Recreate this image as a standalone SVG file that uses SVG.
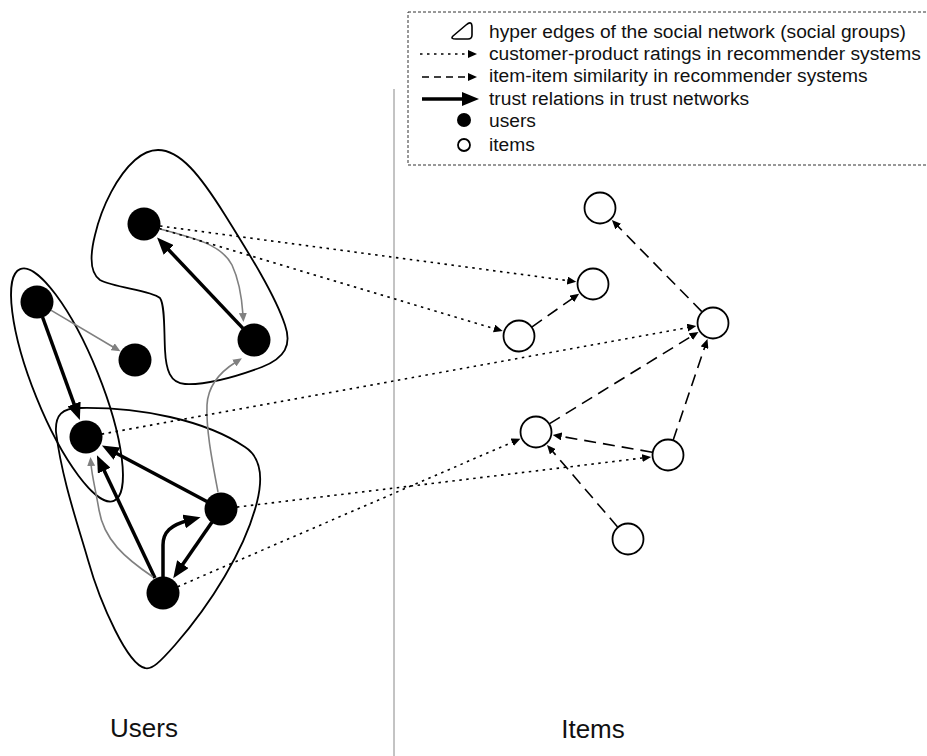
<svg xmlns="http://www.w3.org/2000/svg" width="927" height="756" viewBox="0 0 927 756">
  <style>
    .txt { font-family: "Liberation Sans", Arial, sans-serif; fill: #111; }
    .legend { font-size: 19.2px; }
    .label { font-size: 26px; }
    .group { fill: none; stroke: #000; stroke-width: 1.8; }
    .user { fill: #000; }
    .item { fill: #fff; stroke: #000; stroke-width: 1.8; }
    .trust { fill: none; stroke: #000; stroke-width: 3.5; marker-end: url(#headThick); }
    .gray { fill: none; stroke: #808080; stroke-width: 1.6; marker-end: url(#headGray); }
    .rating { fill: none; stroke: #000; stroke-width: 1.6; stroke-dasharray: 2.5 4.5; marker-end: url(#headSmall); }
    .sim { fill: none; stroke: #000; stroke-width: 1.6; stroke-dasharray: 12 7; marker-end: url(#headSmall); }
  </style>
  <defs>
    <marker id="headThick" markerUnits="userSpaceOnUse" markerWidth="18" markerHeight="14" viewBox="0 0 18 14" refX="4" refY="7" orient="auto">
      <path d="M0,0 L17,7 L0,14 z" fill="#000"/>
    </marker>
    <marker id="headSmall" markerUnits="userSpaceOnUse" markerWidth="10" markerHeight="8" viewBox="0 0 10 8" refX="2" refY="4" orient="auto">
      <path d="M0,0 L9,4 L0,8 z" fill="#000"/>
    </marker>
    <marker id="headGray" markerUnits="userSpaceOnUse" markerWidth="10" markerHeight="8" viewBox="0 0 10 8" refX="2" refY="4" orient="auto">
      <path d="M0,0 L9,4 L0,8 z" fill="#808080"/>
    </marker>
  </defs>

  <!-- divider between the user side and the item side -->
  <line x1="394" y1="89" x2="394" y2="756" stroke="#888" stroke-width="1"/>

  <!-- legend -->
  <g id="legend">
    <rect x="408" y="12" width="530" height="153" fill="none" stroke="#333" stroke-width="1" stroke-dasharray="3 2"/>
    <path d="M453,36 L466,25 Q472,20 472,27 L472,35 Q472,39 468,39 L456,39 Q450,39 453,36 Z" fill="none" stroke="#000" stroke-width="1.6"/>
    <line x1="420" y1="54" x2="470" y2="54" stroke="#000" stroke-width="1.6" stroke-dasharray="2.5 4.5" marker-end="url(#headSmall)"/>
    <line x1="422" y1="77" x2="470" y2="77" stroke="#000" stroke-width="1.6" stroke-dasharray="7 5" marker-end="url(#headSmall)"/>
    <line x1="422" y1="99" x2="466" y2="99" stroke="#000" stroke-width="3.5" marker-end="url(#headThick)"/>
    <circle cx="464" cy="120" r="7" fill="#000"/>
    <circle cx="464" cy="145" r="6" fill="#fff" stroke="#000" stroke-width="1.8"/>
    <text class="txt legend" x="489" y="38">hyper edges of the social network (social groups)</text>
    <text class="txt legend" x="489" y="60">customer-product ratings in recommender systems</text>
    <text class="txt legend" x="489" y="82">item-item similarity in recommender systems</text>
    <text class="txt legend" x="489" y="105">trust relations in trust networks</text>
    <text class="txt legend" x="489" y="127">users</text>
    <text class="txt legend" x="489" y="151">items</text>
  </g>

  <!-- social groups (hyper edges) -->
  <g id="groups">
    <path id="group-top" class="group" d="M158,150 C180,150 200,175 225,215 C250,255 275,295 285,325 C292,345 285,358 262,367 C235,377 205,385 185,384 C170,383 166,370 165,350 C164,330 165,305 160,298 C150,290 115,288 100,280 C90,273 90,255 95,235 C102,205 118,175 135,160 C143,153 150,150 158,150 Z"/>
    <ellipse id="group-left" class="group" cx="67" cy="385" rx="125" ry="33" transform="rotate(68 67 385)"/>
    <path id="group-bottom" class="group" d="M56,432 C55,415 62,408 80,408 C140,407 205,420 245,447 C262,458 263,478 257,502 C245,550 210,605 175,645 C160,662 152,670 145,668 C135,666 125,650 115,630 C105,610 95,585 88,560 C78,525 62,480 56,432 Z"/>
  </g>

  <!-- connectors -->
  <g id="connectors">
    <!-- trust relations -->
    <path class="trust" d="M243,328.4 L166,247"/>
    <path class="trust" d="M42.5,317 L75.4,407.7"/>
    <path class="trust" d="M206.9,501.5 L113.4,451.7"/>
    <path class="trust" d="M155,578 L102.5,467"/>
    <path class="trust" d="M211.9,522.2 L180.6,567.5"/>
    <path class="trust" d="M163,577 L163,545 C163,532 171,525 188,520.5"/>
    <!-- grey relations -->
    <path class="gray" d="M160,229 C195,238 222,245 232,265 C240,282 242,300 243,315"/>
    <path class="gray" d="M50.8,310.1 L114.4,347.7"/>
    <path class="gray" d="M218,492 C212,460 206,430 207,405 C208,385 220,372 236,362"/>
    <path class="gray" d="M153,577 C125,558 104,540 99,510 C95,487 92,476 91,464"/>
    <!-- customer-product ratings -->
    <path class="rating" d="M160,226 L569.3,280.8"/>
    <path class="rating" d="M159.3,228.6 L496,329.1"/>
    <path class="rating" d="M101.7,434.1 L689.4,327.3"/>
    <path class="rating" d="M236.9,507.1 L644.2,457.8"/>
    <path class="rating" d="M177.7,586.7 L514,441.5"/>
    <!-- item-item similarity -->
    <path class="sim" d="M532.1,326.8 L573.4,297.8"/>
    <path class="sim" d="M701.8,311.6 L616.8,225.1"/>
    <path class="sim" d="M549.6,423.6 L692.5,335.6"/>
    <path class="sim" d="M673.2,439.9 L705.2,345.7"/>
    <path class="sim" d="M652.2,452.2 L559.6,436.1"/>
    <path class="sim" d="M617.6,526.9 L551.6,450.2"/>
  </g>

  <!-- users -->
  <g id="u1"><circle class="user" cx="144" cy="224" r="16.5"/></g>
  <g id="u2"><circle class="user" cx="254" cy="340" r="16.5"/></g>
  <g id="u3"><circle class="user" cx="37" cy="302" r="16.5"/></g>
  <g id="u4"><circle class="user" cx="135" cy="360" r="16.5"/></g>
  <g id="u5"><circle class="user" cx="86" cy="437" r="16.5"/></g>
  <g id="u6"><circle class="user" cx="221" cy="509" r="16.5"/></g>
  <g id="u7"><circle class="user" cx="163" cy="593" r="16.5"/></g>

  <!-- items -->
  <g id="i1"><circle class="item" cx="600" cy="208" r="15.5"/></g>
  <g id="i2"><circle class="item" cx="593" cy="284" r="15.5"/></g>
  <g id="i3"><circle class="item" cx="519" cy="336" r="15.5"/></g>
  <g id="i4"><circle class="item" cx="713" cy="323" r="15.5"/></g>
  <g id="i5"><circle class="item" cx="536" cy="432" r="15.5"/></g>
  <g id="i6"><circle class="item" cx="668" cy="455" r="15.5"/></g>
  <g id="i7"><circle class="item" cx="628" cy="539" r="15.5"/></g>

  <!-- side labels -->
  <text class="txt label" x="144" y="737" text-anchor="middle">Users</text>
  <text class="txt label" x="593" y="738" text-anchor="middle">Items</text>
</svg>
